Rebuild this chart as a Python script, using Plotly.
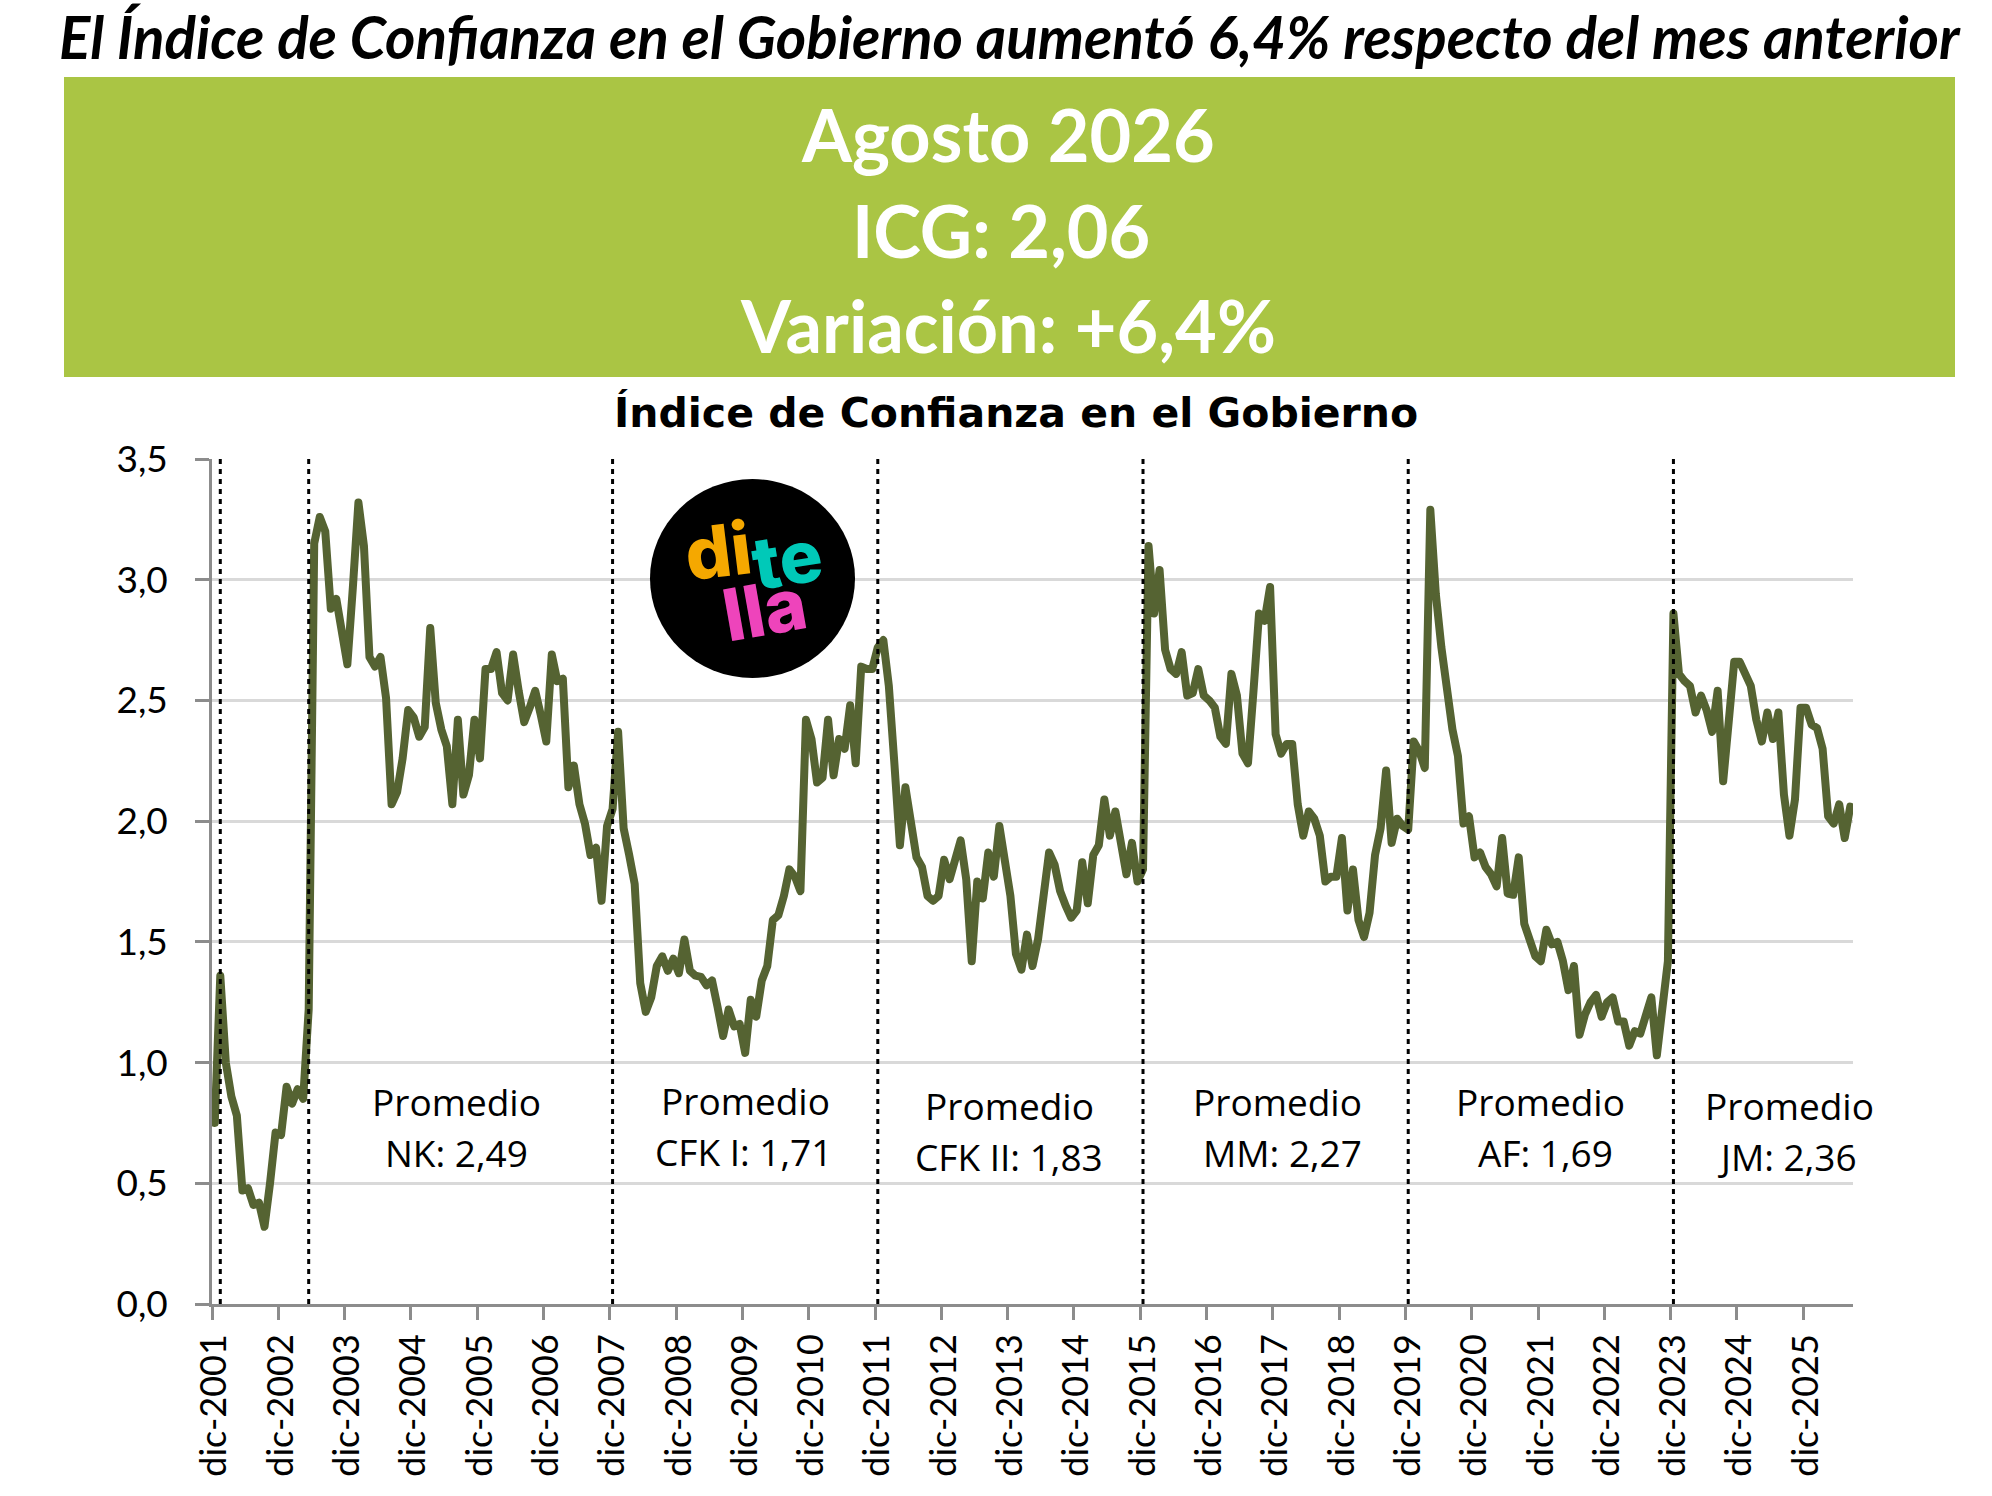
import plotly.graph_objects as go

# ---------- data ----------
meses_abrev = ["ene", "feb", "mar", "abr", "may", "jun", "jul", "ago", "sep", "oct", "nov", "dic"]
anio_inicio = 2001
icg = [
    0.75, 1.36, 1.00, 0.86, 0.78, 0.47, 0.48, 0.41, 0.42, 0.32, 0.50, 0.71,
    0.70, 0.90, 0.83, 0.89, 0.85, 1.22, 3.15, 3.26, 3.20, 2.88, 2.92, 2.78,
    2.65, 2.97, 3.32, 3.14, 2.68, 2.64, 2.68, 2.51, 2.07, 2.12, 2.26, 2.46,
    2.43, 2.35, 2.39, 2.80, 2.49, 2.38, 2.31, 2.07, 2.42, 2.11, 2.19, 2.42,
    2.26, 2.63, 2.63, 2.70, 2.53, 2.50, 2.69, 2.54, 2.41, 2.47, 2.54, 2.44,
    2.33, 2.69, 2.58, 2.59, 2.14, 2.23, 2.07, 1.99, 1.86, 1.89, 1.67, 1.98,
    2.05, 2.37, 1.97, 1.86, 1.74, 1.33, 1.21, 1.27, 1.40, 1.44, 1.38, 1.43,
    1.37, 1.51, 1.38, 1.36, 1.355, 1.32, 1.34, 1.23, 1.11, 1.22, 1.15, 1.16,
    1.04, 1.26, 1.19, 1.34, 1.40, 1.59, 1.61, 1.69, 1.80, 1.77, 1.71, 2.42,
    2.34, 2.16, 2.18, 2.42, 2.19, 2.34, 2.30, 2.48, 2.24, 2.64, 2.63, 2.63,
    2.72, 2.75, 2.56, 2.24, 1.90, 2.14, 1.99, 1.85, 1.81, 1.69, 1.67, 1.69,
    1.84, 1.76, 1.84, 1.92, 1.76, 1.42, 1.75, 1.68, 1.87, 1.77, 1.98, 1.85,
    1.69, 1.45, 1.385, 1.53, 1.40, 1.51, 1.71, 1.87, 1.82, 1.71, 1.65, 1.60,
    1.63, 1.83, 1.66, 1.86, 1.90, 2.09, 1.94, 2.04, 1.91, 1.78, 1.91, 1.75,
    1.80, 3.14, 2.86, 3.04, 2.71, 2.63, 2.61, 2.70, 2.52, 2.53, 2.63, 2.52,
    2.50, 2.47, 2.35, 2.32, 2.61, 2.52, 2.28, 2.24, 2.54, 2.86, 2.83, 2.97,
    2.36, 2.28, 2.32, 2.32, 2.07, 1.94, 2.04, 2.01, 1.94, 1.75, 1.77, 1.77,
    1.93, 1.63, 1.80, 1.59, 1.52, 1.62, 1.86, 1.97, 2.21, 1.91, 2.01, 1.98,
    1.965, 2.33, 2.29, 2.22, 3.29, 2.94, 2.72, 2.52, 2.38, 2.27, 1.99, 2.02,
    1.85, 1.87, 1.81, 1.78, 1.73, 1.93, 1.70, 1.695, 1.85, 1.575, 1.51, 1.44,
    1.42, 1.55, 1.49, 1.50, 1.42, 1.30, 1.40, 1.115, 1.20, 1.25, 1.28, 1.19,
    1.25, 1.27, 1.17, 1.17, 1.07, 1.13, 1.12, 1.20, 1.27, 1.03, 1.22, 1.42,
    2.86, 2.61, 2.58, 2.56, 2.45, 2.52, 2.46, 2.37, 2.54, 2.165, 2.41, 2.66,
    2.66, 2.61, 2.56, 2.42, 2.33, 2.45, 2.34, 2.45, 2.11, 1.94, 2.09, 2.47,
    2.47, 2.40, 2.385, 2.30, 2.02, 1.99, 2.07, 1.93, 2.06,
]
cambios_gobierno = ["ene-2002", "may-2003", "dic-2007", "dic-2011", "dic-2015", "dic-2019", "dic-2023"]
y_ticks = [0, 0.5, 1, 1.5, 2, 2.5, 3, 3.5]
y_tick_text = ["0,0", "0,5", "1,0", "1,5", "2,0", "2,5", "3,0", "3,5"]
promedios = [
    ("Promedio", "NK: 2,49", 456, 1101, 456, 1152),
    ("Promedio", "CFK I: 1,71", 745, 1100, 743, 1151),
    ("Promedio", "CFK II: 1,83", 1009, 1105, 1009, 1156),
    ("Promedio", "MM: 2,27", 1277, 1101, 1282, 1152),
    ("Promedio", "AF: 1,69", 1540, 1101, 1545, 1152),
    ("Promedio", "JM: 2,36", 1789, 1105, 1787, 1156),
]

titulo = "El Índice de Confianza en el Gobierno aumentó 6,4% respecto del mes anterior"
banner = [("Agosto 2026", 1008, 134), ("ICG: 2,06", 1001, 230), ("Variación: +6,4%", 1008, 325)]
subtitulo = "Índice de Confianza en el Gobierno"

# month labels: first value is December of the start year
meses = []
for k in range(len(icg)):
    m = (11 + k) % 12
    a = anio_inicio + (11 + k) // 12
    meses.append(f"{meses_abrev[m]}-{a}")

# ---------- geometry ----------
W, H = 1992, 1496
L, R, T, B = 212, 1853, 459, 1304
FONT = "Lato, Carlito, Calibri, sans-serif"
LINE = "#556332"
GRID = "#D9D9D9"
AXIS = "#8C8C8C"


def px(x):
    return (x - L) / (R - L)


def py(y):
    return (B - y) / (B - T)


fig = go.Figure()
fig.add_trace(go.Scatter(x=meses, y=icg, mode="lines", line=dict(color=LINE, width=8), showlegend=False))

shapes = [
    dict(type="rect", xref="paper", yref="paper", x0=px(64), x1=px(1955), y0=py(77), y1=py(377),
         fillcolor="#AAC544", line=dict(width=0), layer="below"),
    dict(type="circle", xref="paper", yref="paper", x0=px(650), x1=px(855), y0=py(479), y1=py(678),
         fillcolor="#000000", line=dict(width=0), layer="above"),
]
for c in cambios_gobierno:
    shapes.append(dict(type="line", xref="x", yref="y", x0=c, x1=c, y0=0, y1=3.5, layer="above",
                       line=dict(color="#000000", width=3, dash="5px,5px")))

ann = []


def text(s, x, y, size, color="#000000", weight=400, style="normal", family=FONT, angle=0):
    ann.append(dict(text=s, xref="paper", yref="paper", x=px(x), y=py(y), xanchor="center", yanchor="middle",
                    showarrow=False, textangle=angle,
                    font=dict(family=family, size=size, color=color, weight=weight, style=style)))


text(titulo, 1010, 36, 58.3, weight=700, style="italic")
for s, x, y in banner:
    text(s, x, y, 72, color="#FFFFFF", weight=700)
text(subtitulo, 1016, 413, 41, weight=700, family="DejaVu Sans")
for a, b, xa, ya, xb, yb in promedios:
    text(a, xa, ya, 37, family="Open Sans")
    text(b, xb, yb, 37, family="Open Sans")
text("di", 718, 550, 72, color="#F5A800", weight=800, family="Inter", angle=-7)
text("te", 787, 558, 72, color="#00C9B8", weight=800, family="Inter", angle=-9)
text("lla", 764, 608, 72, color="#EE44BB", weight=800, family="Inter", angle=-10)

fig.update_layout(
    width=W, height=H, autosize=False,
    margin=dict(l=L, r=W - R, t=T, b=H - B, pad=0),
    paper_bgcolor="#FFFFFF", plot_bgcolor="#FFFFFF",
    shapes=shapes, annotations=ann, showlegend=False,
    font=dict(family=FONT, color="#000000"),
    xaxis=dict(type="category", categoryorder="array", categoryarray=meses,
               range=[-0.5, len(meses) - 0.5], tickmode="linear", tick0=0, dtick=12,
               tickson="boundaries", ticks="outside", ticklen=13, tickwidth=2.5, tickcolor=AXIS,
               tickangle=-90, tickfont=dict(size=36, family=FONT), ticklabelstandoff=13,
               showgrid=False, showline=True, linecolor=AXIS, linewidth=2.5, zeroline=False),
    yaxis=dict(range=[0, 3.5], tickmode="array", tickvals=y_ticks, ticktext=y_tick_text,
               ticks="outside", ticklen=14, tickwidth=2.5, tickcolor=AXIS,
               tickfont=dict(size=37, family=FONT), ticklabelstandoff=20,
               showgrid=True, gridcolor=GRID, gridwidth=2.5,
               showline=True, linecolor=AXIS, linewidth=2.5, zeroline=False),
)

post = """
document.body.style.margin='0';
document.querySelectorAll('.scatterlayer .js-line').forEach(function(e){e.style.strokeLinejoin='round';e.style.strokeLinecap='round';});
"""
fig.write_html("out.html", post_script=post, config={"displayModeBar": False})
